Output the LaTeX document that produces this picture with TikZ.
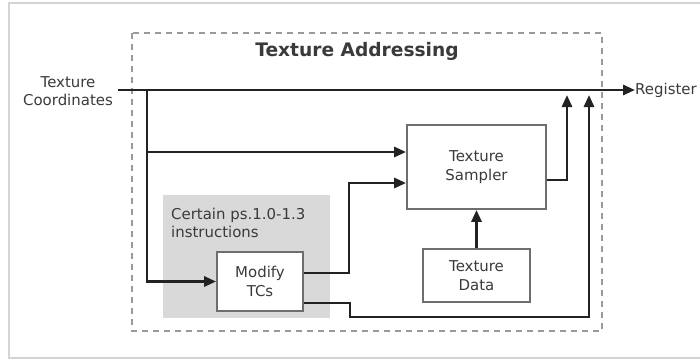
\documentclass[tikz,border=0pt]{standalone}
\usepackage{fontspec}
\setmainfont{DejaVu Sans}
\usetikzlibrary{arrows.meta}
\definecolor{txt}{HTML}{3A3A3A}
\definecolor{ln}{HTML}{222222}
\definecolor{bx}{HTML}{6E6E6E}
\definecolor{grayfill}{HTML}{D9D9D9}
\definecolor{dsh}{HTML}{9A9A9A}
\definecolor{frm}{HTML}{D4D4D4}
\tikzset{
  lbl/.style={font=\fontsize{15}{18.5}\selectfont, text=txt, align=center, inner sep=0pt},
  blk/.style={draw=bx, line width=1.8bp, fill=white, inner sep=0pt, lbl},
  wire/.style={draw=ln, line width=2.8bp},
  arr/.style={wire, -{Triangle[length=12bp,width=10bp]}}
}
\begin{document}
\begin{tikzpicture}[x=1bp,y=-1bp]
\useasboundingbox (0,0) rectangle (700,360);
\fill[white] (0,0) rectangle (700,360);
% outer frame
\draw[frm, line width=2.5bp] (704,3) -- (9,3) -- (9,358) -- (704,358);
% dashed group
\draw[dsh, line width=1.3bp, dash pattern=on 6bp off 5bp] (132,33) rectangle (602,331);
% shaded area
\fill[grayfill] (163,195) rectangle (330,318);
\node[lbl, anchor=west, align=left] (cert) at (171,223) {Certain ps.1.0-1.3\\instructions};
% title
\node[lbl, font=\fontsize{18.7}{22}\bfseries] (title) at (357,51) {Texture Addressing};
% texts
\node[lbl] (tc) at (68,91) {Texture\\Coordinates};
\node[lbl, anchor=west] (reg) at (635,90) {Register};
% blocks
\node[blk, minimum width=139bp, minimum height=84bp] (samp) at (476.5,167) {Texture\\Sampler};
\node[blk, minimum width=107bp, minimum height=53bp] (data) at (476.5,275.5) {Texture\\Data};
\node[blk, minimum width=86bp, minimum height=59bp] (mod) at (260,281.5) {Modify\\TCs};
% coordinates
\coordinate (in) at (118,90);
\coordinate (j1) at (147,90);
\coordinate (j2) at (147,152);
\coordinate (up1) at (349,183);
\coordinate (dn1) at (350,317);
\coordinate (t1) at (567,95);
\coordinate (t2) at (589,95);
% connectors
\draw[arr] (in) -- (reg.west);
\draw[arr] (j1) |- (mod.west);
\draw[arr] (j2) -- (samp.west |- j2);
\draw[arr] (mod.east |- 0,273) -| (up1) -- (samp.west |- up1);
\draw[arr] (samp.east |- 0,180) -| (t1);
\draw[arr] (mod.east |- 0,303) -| (dn1) -| (t2);
\draw[arr] (data.north) -- (samp.south);
\end{tikzpicture}
\end{document}
